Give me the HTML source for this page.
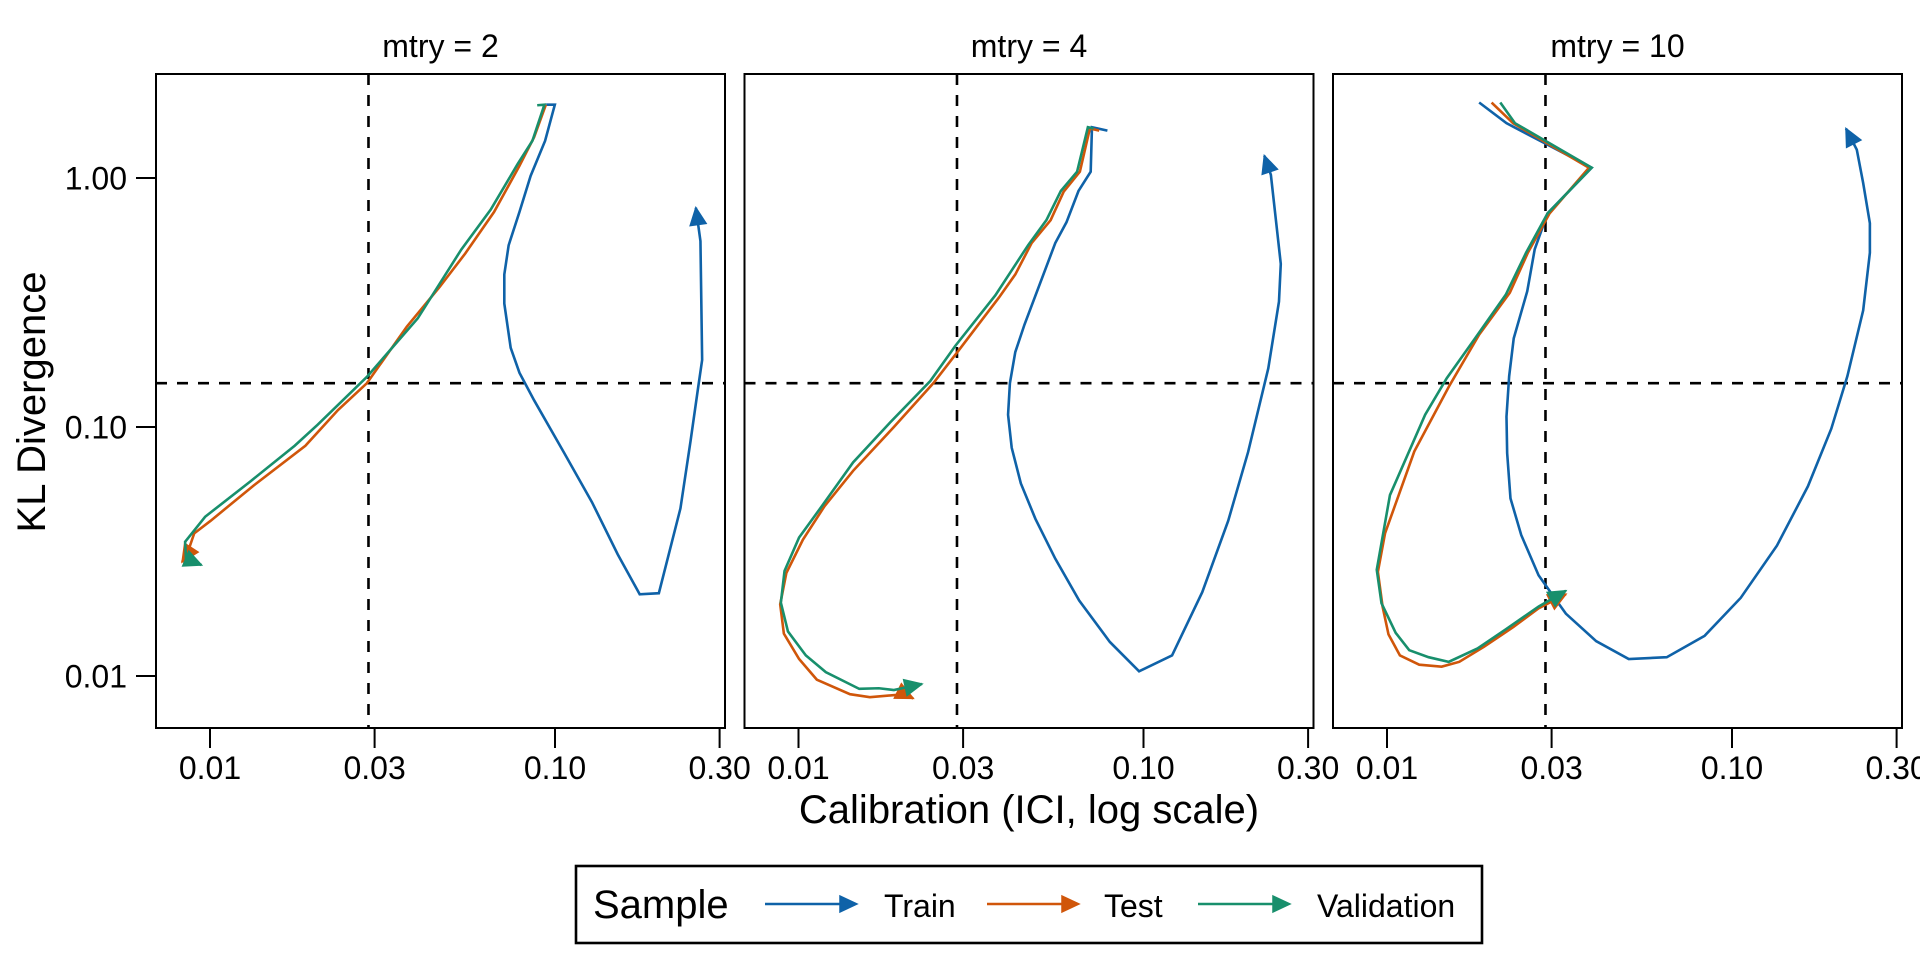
<!DOCTYPE html>
<html>
<head>
<meta charset="utf-8">
<style>
html,body{margin:0;padding:0;background:#fff;}
svg{display:block;}
text{font-family:"Liberation Sans",Arial,sans-serif;fill:#000;}
</style>
</head>
<body>
<svg id="chart" width="1920" height="960" viewBox="0 0 1920 960" xmlns="http://www.w3.org/2000/svg"></svg>
<script>
// ---- data ----
const panelTitles = ["mtry = 2", "mtry = 4", "mtry = 10"];
const seriesNames = ["Train", "Test", "Validation"];
const seriesColors = ["#0F62A8", "#D0560A", "#188F6C"];
const xTickValues = [0.01, 0.03, 0.10, 0.30];
const xTickLabels = ["0.01", "0.03", "0.10", "0.30"];
const yTickValues = [0.01, 0.10, 1.00];
const yTickLabels = ["0.01", "0.10", "1.00"];
const refICI = 0.0288;
const refKL = 0.150;

// mtry = 2
const p1TrainX = [0.0943,0.0999,0.0936,0.0850,0.0789,0.0734,0.0713,0.0713,0.0744,0.0789,0.0870,0.106,0.128,0.152,0.176,0.200,0.231,0.247,0.259,0.267,0.264,0.256];
const p1TrainY = [1.97,1.97,1.41,1.02,0.731,0.537,0.410,0.313,0.208,0.165,0.128,0.0793,0.0499,0.0308,0.0213,0.0215,0.0471,0.0874,0.139,0.186,0.558,0.760];
const p1TestX = [0.0941,0.0870,0.0789,0.0666,0.0549,0.0463,0.0372,0.0285,0.0235,0.0189,0.0134,0.01004,0.0090,0.00858,0.00830];
const p1TestY = [1.97,1.46,1.12,0.731,0.497,0.365,0.253,0.150,0.117,0.0841,0.0583,0.0420,0.0374,0.0308,0.0287];
const p1ValX = [0.0888,0.0932,0.0860,0.0780,0.0651,0.0535,0.0400,0.0285,0.0205,0.0176,0.0131,0.00968,0.00847,0.00852,0.00945];
const p1ValY = [1.96,1.97,1.41,1.14,0.746,0.516,0.273,0.159,0.102,0.0841,0.0605,0.0436,0.0346,0.0296,0.0279];

// mtry = 4
const p2TrainX = [0.0786,0.0709,0.0703,0.0648,0.0598,0.0555,0.0452,0.0425,0.0410,0.0405,0.0415,0.0441,0.0486,0.0555,0.0651,0.0799,0.0971,0.121,0.148,0.176,0.201,0.230,0.247,0.250,0.234,0.224];
const p2TrainY = [1.55,1.60,1.06,0.887,0.664,0.548,0.258,0.200,0.150,0.112,0.0825,0.0594,0.0428,0.0296,0.0201,0.0137,0.01044,0.0121,0.0217,0.0420,0.0793,0.172,0.319,0.452,1.03,1.23];
const p2TestX = [0.0744,0.0699,0.0654,0.0587,0.0538,0.0474,0.0425,0.0381,0.0292,0.0246,0.0189,0.0144,0.0119,0.0103,0.00922,0.00885,0.00907,0.01004,0.0113,0.0141,0.0161,0.0203,0.0215];
const p2TestY = [1.55,1.58,1.06,0.881,0.677,0.548,0.410,0.331,0.204,0.150,0.100,0.0667,0.0481,0.0353,0.0259,0.0194,0.0148,0.0117,0.00967,0.00845,0.00822,0.00845,0.00813];
const p2ValX = [0.0717,0.0690,0.0642,0.0576,0.0523,0.0463,0.0415,0.0372,0.0285,0.0241,0.0184,0.0144,0.0118,0.01004,0.00911,0.00889,0.00932,0.0105,0.0120,0.0150,0.0171,0.0189,0.0228];
const p2ValY = [1.58,1.60,1.06,0.887,0.677,0.537,0.426,0.338,0.212,0.153,0.104,0.0721,0.0490,0.0360,0.0264,0.0197,0.0151,0.0121,0.01036,0.00888,0.00893,0.00878,0.00929];

// mtry = 10
const p3TrainX = [0.0185,0.0222,0.0392,0.0292,0.0268,0.0255,0.0233,0.0226,0.0222,0.0223,0.0228,0.0245,0.0275,0.0306,0.0330,0.0404,0.0502,0.0647,0.0833,0.106,0.135,0.166,0.194,0.216,0.240,0.251,0.251,0.240,0.230,0.214];
const p3TrainY = [2.01,1.66,1.10,0.721,0.517,0.351,0.227,0.160,0.110,0.0786,0.0517,0.0368,0.0254,0.0206,0.0178,0.0138,0.0117,0.0119,0.0145,0.0206,0.0334,0.0578,0.0984,0.160,0.294,0.501,0.658,0.955,1.30,1.58];
const p3TestX = [0.0201,0.0232,0.0385,0.0296,0.0256,0.0227,0.0185,0.0151,0.0120,0.00987,0.00941,0.00971,0.0101,0.0109,0.0124,0.0144,0.0162,0.0191,0.0232,0.0275,0.0330];
const p3TestY = [2.01,1.66,1.10,0.721,0.501,0.346,0.235,0.145,0.0798,0.0374,0.0262,0.0190,0.0147,0.0121,0.0111,0.0109,0.0114,0.0131,0.0157,0.0187,0.0213];
const p3ValX = [0.0213,0.0235,0.0392,0.0292,0.0253,0.0221,0.0180,0.0149,0.0129,0.0102,0.00934,0.00964,0.0106,0.0116,0.0132,0.0151,0.0183,0.0221,0.0275,0.0330];
const p3ValY = [2.01,1.66,1.10,0.721,0.501,0.340,0.227,0.157,0.112,0.0533,0.0267,0.0196,0.0149,0.0127,0.0119,0.0114,0.0129,0.0154,0.0190,0.0220];

const panelSeries = [
  [[p1TrainX,p1TrainY],[p1TestX,p1TestY],[p1ValX,p1ValY]],
  [[p2TrainX,p2TrainY],[p2TestX,p2TestY],[p2ValX,p2ValY]],
  [[p3TrainX,p3TrainY],[p3TestX,p3TestY],[p3ValX,p3ValY]]
];

// ---- layout ----
const NS = "http://www.w3.org/2000/svg";
const svg = document.getElementById("chart");
const panelLefts = [156, 744.5, 1333];
const panelW = 569, panelTop = 74, panelBottom = 728;
const xLogMin = -2.1565, xLogMax = xLogMin + panelW / 345;
const yLogTop = 0.4177, yLogBottom = yLogTop - (panelBottom - panelTop) / 249;

function xScale(v, left) { return left + (Math.log10(v) - xLogMin) / (xLogMax - xLogMin) * panelW; }
function yScale(v) { return panelTop + (yLogTop - Math.log10(v)) / (yLogTop - yLogBottom) * (panelBottom - panelTop); }

function mk(tag, attrs, parent) {
  const e = document.createElementNS(NS, tag);
  for (const k in attrs) e.setAttribute(k, attrs[k]);
  (parent || svg).appendChild(e);
  return e;
}
function arrowHead(x1, y1, x2, y2, color, parent) {
  const len = 17, hw = 8;
  const dx = x2 - x1, dy = y2 - y1, d = Math.hypot(dx, dy) || 1;
  const ux = dx / d, uy = dy / d;
  const bx = x2 - ux * len, by = y2 - uy * len;
  const pts = [[x2, y2], [bx - uy * hw, by + ux * hw], [bx + uy * hw, by - ux * hw]];
  return mk("polygon", {points: pts.map(p => p.join(",")).join(" "), fill: color, stroke: color, "stroke-width": 1.5, "stroke-linejoin": "miter"}, parent);
}

panelLefts.forEach((left, pi) => {
  const g = mk("g", {});
  
  

  const title = mk("text", {x: left + panelW / 2, y: 57, "text-anchor": "middle", "font-size": 32}, g);
  title.textContent = panelTitles[pi];
  
  

  const vx = xScale(refICI, left);
  const vl = mk("line", {x1: vx, x2: vx, y1: panelTop, y2: panelBottom, stroke: "#000", "stroke-width": 2.6, "stroke-dasharray": "11 10"}, g);
  
  
  const hy = yScale(refKL);
  const hl = mk("line", {x1: left, x2: left + panelW, y1: hy, y2: hy, stroke: "#000", "stroke-width": 2.6, "stroke-dasharray": "11 10"}, g);
  
  

  panelSeries[pi].forEach((s, si) => {
    const xs = s[0], ys = s[1];
    const pts = xs.map((v, i) => [xScale(v, left), yScale(ys[i])]);
    const sg = mk("g", {}, g);
    
    
    mk("polyline", {points: pts.map(p => p.join(",")).join(" "), fill: "none", stroke: seriesColors[si], "stroke-width": 2.6, "stroke-linejoin": "miter", "stroke-miterlimit": 3}, sg);
    const n = pts.length;
    arrowHead(pts[n - 2][0], pts[n - 2][1], pts[n - 1][0], pts[n - 1][1], seriesColors[si], sg);
  });

  const border = mk("rect", {x: left, y: panelTop, width: panelW, height: panelBottom - panelTop, fill: "none", stroke: "#000", "stroke-width": 2}, g);
  
  

  xTickValues.forEach((v, ti) => {
    const x = xScale(v, left);
    const t = mk("line", {x1: x, x2: x, y1: panelBottom, y2: panelBottom + 20, stroke: "#000", "stroke-width": 2}, g);
    
    
    const lb = mk("text", {x: x, y: 779, "text-anchor": "middle", "font-size": 32}, g);
    lb.textContent = xTickLabels[ti];
    
    
  });

  if (pi === 0) {
    yTickValues.forEach((v, ti) => {
      const y = yScale(v);
      const t = mk("line", {x1: left - 20, x2: left, y1: y, y2: y, stroke: "#000", "stroke-width": 2}, g);
      
      
      const lb = mk("text", {x: 127, y: y + 11.5, "text-anchor": "end", "font-size": 32}, g);
      lb.textContent = yTickLabels[ti];
      
      
    });
  }
});

const xt = mk("text", {x: 1029, y: 823, "text-anchor": "middle", "font-size": 40});
xt.textContent = "Calibration (ICI, log scale)";


const yt = mk("text", {x: 0, y: 0, "text-anchor": "middle", "font-size": 40, transform: "translate(45,402) rotate(-90)"});
yt.textContent = "KL Divergence";



const lg = mk("g", {});


mk("rect", {x: 576, y: 866, width: 906, height: 77, fill: "#fff", stroke: "#000", "stroke-width": 2.6}, lg);
const lt = mk("text", {x: 593, y: 918, "font-size": 40}, lg);
lt.textContent = "Sample";


const keyStarts = [765, 987, 1198];
const labelStarts = [884, 1104, 1317];
seriesNames.forEach((name, i) => {
  const eg = mk("g", {}, lg);
  
  
  mk("line", {x1: keyStarts[i], x2: keyStarts[i] + 90, y1: 904, y2: 904, stroke: seriesColors[i], "stroke-width": 2.6}, eg);
  arrowHead(keyStarts[i], 904, keyStarts[i] + 92, 904, seriesColors[i], eg);
  const tx = mk("text", {x: labelStarts[i], y: 917, "font-size": 32}, eg);
  tx.textContent = name;
});
</script>
</body>
</html>
